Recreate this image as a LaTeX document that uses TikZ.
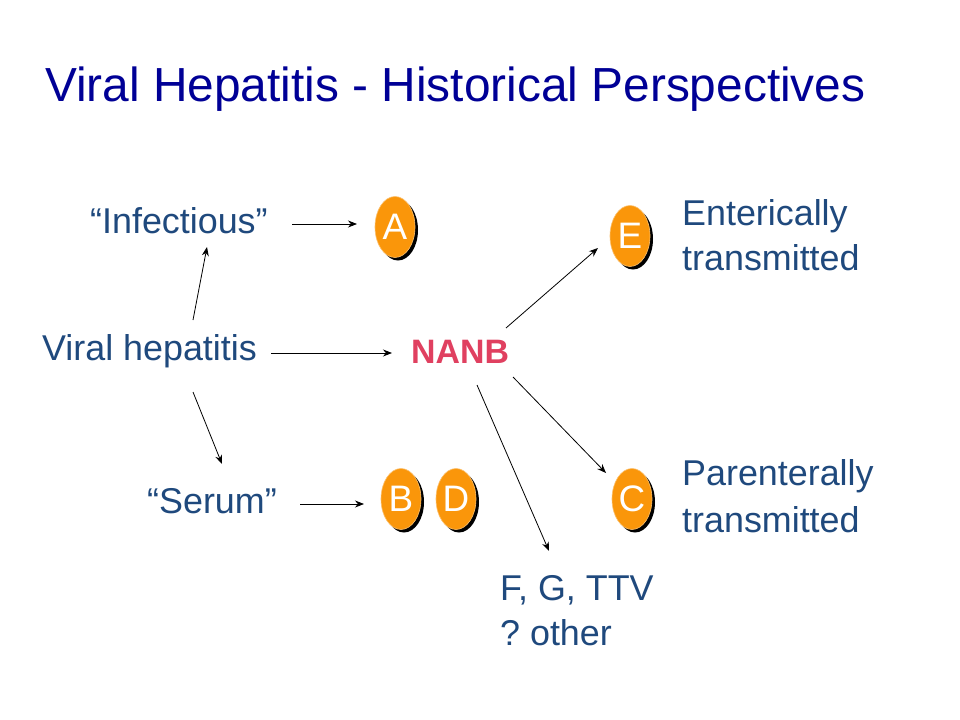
\documentclass[tikz,border=0pt]{standalone}
\usepackage{fontspec}
\setmainfont{Liberation Sans}
\usetikzlibrary{arrows.meta,shapes.geometric,shadows}
\definecolor{titleblue}{RGB}{0,0,150}
\definecolor{txtblue}{RGB}{31,73,125}
\definecolor{orng}{RGB}{250,150,10}
\definecolor{nanbred}{RGB}{224,64,96}
\tikzset{
  lbl/.style={anchor=base west, inner sep=0pt, text=txtblue, font=\fontsize{36}{43}\selectfont},
  virus/.style={ellipse, minimum width=40bp, minimum height=61bp, inner sep=0pt,
     fill=orng, draw=orng!60!white, line width=0.6bp,
     drop shadow={shadow xshift=3bp, shadow yshift=-3bp, fill=black, opacity=1},
     text=white, font=\fontsize{37}{43}\selectfont},
  arr/.style={-{Stealth[length=9bp,width=7bp]}, line width=0.8bp, black},
}
\begin{document}
\frenchspacing
\begin{tikzpicture}[x=1bp,y=-1bp]
\useasboundingbox[fill=white] (0,0) rectangle (960,720);
% title
\node[anchor=base west, inner sep=0pt, text=titleblue, font=\fontsize{48}{58}\selectfont] (title) at (45,102) {Viral Hepatitis - Historical Perspectives};
% labels
\node[lbl] (infect) at (90,233) {“Infectious”};
\node[lbl] (viral) at (42,360) {Viral hepatitis};
\node[lbl] (serum) at (147,513) {“Serum”};
\node[lbl] (ent1) at (682,225) {Enterically};
\node[lbl] (ent2) at (682,270) {transmitted};
\node[lbl] (par1) at (682,485) {Parenterally};
\node[lbl] (par2) at (682,532) {transmitted};
\node[lbl] (fg1) at (500,600) {F, G, TTV};
\node[lbl] (fg2) at (500,645) {? other};
% NANB
\node[anchor=base west, inner sep=0pt, text=nanbred, font=\fontsize{34}{40}\selectfont\bfseries] (nanb) at (411,363) {NANB};
% viruses
\node[virus] (A) at (395,227) {A};
\node[virus] (E) at (630,236) {E};
\node[virus] (B) at (401,499) {B};
\node[virus] (D) at (456,499) {D};
\node[virus] (C) at (632,499) {C};
% arrow endpoints
\coordinate (i1) at (292,224); \coordinate (i2) at (357,224);
\coordinate (v1) at (271,353); \coordinate (v2) at (392,353);
\coordinate (s1) at (300,504); \coordinate (s2) at (364,504);
\coordinate (u1) at (193,320); \coordinate (u2) at (207,247);
\coordinate (d1) at (193,392); \coordinate (d2) at (222,464);
\coordinate (ne1) at (506,328); \coordinate (ne2) at (598,248);
\coordinate (nc1) at (513,377); \coordinate (nc2) at (606,473);
\coordinate (nf1) at (477,385); \coordinate (nf2) at (549,551);
\draw[arr] (i1) -- (i2);
\draw[arr] (v1) -- (v2);
\draw[arr] (s1) -- (s2);
\draw[arr] (u1) -- (u2);
\draw[arr] (d1) -- (d2);
\draw[arr] (ne1) -- (ne2);
\draw[arr] (nc1) -- (nc2);
\draw[arr] (nf1) -- (nf2);
\end{tikzpicture}
\end{document}
